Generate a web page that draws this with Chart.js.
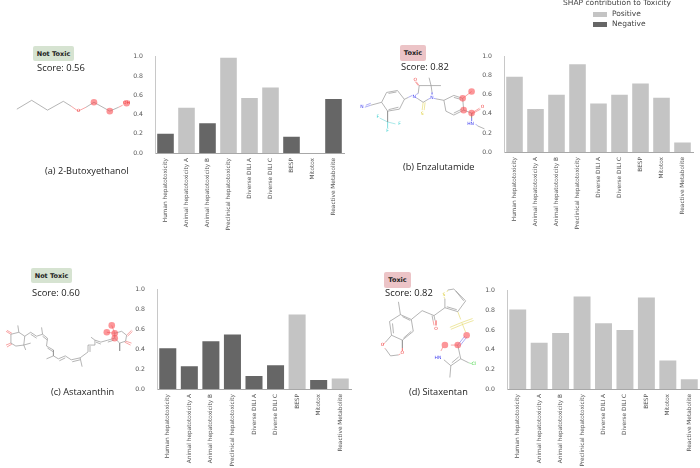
<!DOCTYPE html>
<html>
<head>
<meta charset="utf-8">
<title>SHAP contribution to Toxicity</title>
<script src="https://cdn.jsdelivr.net/npm/chart.js@4/dist/chart.umd.min.js"></script>
<style>
  html, body { margin: 0; padding: 0; background: #fff; overflow: hidden; }
  #page { position: relative; width: 700px; height: 468px; overflow: hidden; }
  canvas { position: absolute; }
  .pill { position: absolute; border-radius: 2px; font: bold 6.5px "DejaVu Sans", sans-serif; color: #222;
          display: flex; align-items: center; justify-content: center; }
  .nontoxic { background: #d6e3d1; }
  .toxic { background: #ecc4c7; }
  .score { position: absolute; font: 9.4px "Open Sans", sans-serif; color: #222; white-space: nowrap; }
  .caption { position: absolute; font: 9.2px "Open Sans", sans-serif; color: #222; white-space: nowrap; }
  .legend { position: absolute; font: 7.5px "DejaVu Sans", sans-serif; color: #444; white-space: nowrap; }
  .swatch { position: absolute; width: 14px; height: 5px; }
</style>
</head>
<body>
<div id="page">
  <canvas id="molecules" width="700" height="468" style="left:0;top:0"></canvas>

  <div class="pill nontoxic" style="left:33px;top:46px;width:41px;height:15px">Not Toxic</div>
  <div class="score" style="left:37px;top:61px">Score: 0.56</div>
  <div class="caption" style="left:45px;top:164px">(a) 2-Butoxyethanol</div>

  <div class="pill toxic" style="left:400px;top:45px;width:26px;height:16px">Toxic</div>
  <div class="score" style="left:401px;top:60px">Score: 0.82</div>
  <div class="caption" style="left:403px;top:160px">(b) Enzalutamide</div>

  <div class="pill nontoxic" style="left:31px;top:268px;width:41px;height:15px">Not Toxic</div>
  <div class="score" style="left:32px;top:286px">Score: 0.60</div>
  <div class="caption" style="left:51px;top:385px">(c) Astaxanthin</div>

  <div class="pill toxic" style="left:384px;top:272px;width:27px;height:16px">Toxic</div>
  <div class="score" style="left:385px;top:286px">Score: 0.82</div>
  <div class="caption" style="left:409px;top:385px">(d) Sitaxentan</div>

  <div class="legend" style="left:563px;top:-2px">SHAP contribution to Toxicity</div>
  <div class="swatch" style="left:593px;top:12px;background:#c4c4c4"></div>
  <div class="legend" style="left:612px;top:9px">Positive</div>
  <div class="swatch" style="left:593px;top:22px;background:#666"></div>
  <div class="legend" style="left:612px;top:19px">Negative</div>
</div>

<script>
const categories = ['Human hepatotoxicity', 'Animal hepatotoxicity A', 'Animal hepatotoxicity B',
  'Preclinical hepatotoxicity', 'Diverse DILI A', 'Diverse DILI C', 'BESP', 'Mitotox', 'Reactive Metabolite'];
const yTicks = [0, 0.2, 0.4, 0.6, 0.8, 1.0];

const valuesA = [0.20, 0.47, 0.31, 0.99, 0.57, 0.68, 0.17, 0, 0.56];
const valuesB = [0.79, 0.45, 0.60, 0.92, 0.51, 0.60, 0.72, 0.57, 0.10];
const valuesC = [0.41, 0.23, 0.48, 0.55, 0.13, 0.24, 0.75, 0.09, 0.105];
const valuesD = [0.81, 0.47, 0.57, 0.94, 0.67, 0.60, 0.93, 0.29, 0.10];

const signsA = ['neg', 'pos', 'neg', 'pos', 'pos', 'pos', 'neg', 'neg', 'neg'];
const signsB = ['pos', 'pos', 'pos', 'pos', 'pos', 'pos', 'pos', 'pos', 'pos'];
const signsC = ['neg', 'neg', 'neg', 'neg', 'neg', 'neg', 'pos', 'neg', 'pos'];
const signsD = ['pos', 'pos', 'pos', 'pos', 'pos', 'pos', 'pos', 'pos', 'pos'];

// molecule sketches: each inner list is one stroke x,y,x,y...
const greyBonds = [
  // a
  [13,107, 28,98, 44,108, 60,99, 68,104], [83,105, 91,100, 107,109, 116,105],
  // b
  [371,103, 382,100, 387,90, 398,88, 405,97, 400,107, 388,109, 382,100], [389,91, 397,89.5], [399,105, 389,107.5],
  [388,109, 388,120], [405,97, 409,95], [419,91, 420,83, 432,83, 433,90], [432,83, 430,75], [432,83, 442,83],
  [418,96, 424,100, 429,97], [437,96.5, 445,98, 455,93, 464,96, 465,108, 455,113, 447,109, 445,98],
  [455,95, 462,97], [455,111, 463,107], [465,108, 473,111, 473,116], [479,124, 486,127],
  // c
  [7,336, 15,334, 21,338, 20,347, 12,348, 7,345, 7,336], [15,334, 14,327], [20,347, 27,345], [20,347, 22,352],
  [21,338, 27,334, 33,338, 39,336, 44,340, 43,348, 50,352, 50,358, 55,361, 62,358, 68,362, 77,360, 85,354, 85,347, 92,347, 92,342, 98,344, 105,342, 112,340],
  [39,336, 38,329], [50,358, 43,361], [77,360, 79,369], [92,342, 88,339],
  [112,340, 112,335, 119,333, 124,337, 123,343, 117,345, 112,340], [117,345, 117,353],
  [27,336, 33,340], [39,338, 44,342], [44,350, 50,354], [56,363, 62,360], [69,364, 77,362], [87,354, 87,348], [93,344, 98,346], [105,344, 111,342],
  // d
  [449,291, 455,290, 467,302, 459,313, 446,309, 446,300], [457,292, 465,302], [458,311, 448,308],
  [446,309, 435,317, 423,312, 412,321, 401,316, 390,323, 392,337, 403,342, 414,333, 412,321],
  [435,317, 436,322], [433,317, 434,322], [401,316, 399,303], [403,318, 411,322], [393,325, 394,335], [404,340, 412,333],
  [392,337, 386,344], [403,342, 403,350], [386,351, 391,358, 399,357],
  [459,347, 462,361, 452,368, 445,362], [460,359, 453,365], [462,361, 470,365], [452,368, 451,380]
];
const redBonds = [
  [68,104, 75,109, 83,105], [116,105, 120,103], [420,83, 417,79], [419,83, 416,79],
  [464,96, 473,89], [473,111, 481,106], [473,112, 482,107], [437,322, 437,327], [434,322, 435,327],
  [2,333, 7,336], [3,332, 8,335], [2,347, 7,345], [3,349, 8,346],
  [112,335, 109,327], [112,335, 104,334], [124,337, 129,332], [125,338, 130,333], [123,343, 129,345], [122,344, 128,347],
  [386,344, 383,347], [403,350, 403,353], [386,351, 385,350], [399,357, 401,356],
  [459,347, 452,347], [442,353, 444,349]
];
const blueBonds = [[365,105, 371,103], [366,103, 371,101], [409,95, 413,93], [419,91, 417,92], [418,96, 416,95],
  [433,90, 433,92], [429,97, 431,96], [437,96.5, 435,96], [473,116, 473,119], [479,124, 477,122], [459,347, 466,338], [461,348, 468,339]];
const yellowBonds = [[424,100, 423,108], [426,100, 425,108], [446,300, 445,298], [449,291, 448,293],
  [459,313, 462,321], [463,324, 451,329], [464,326, 452,331], [463,324, 474,320], [464,326, 475,322], [463,324, 467,334]];
const cyanBonds = [[388,120, 380,116], [388,120, 396,122], [388,120, 388,126]];
const greenBonds = [[470,365, 473,366]];

const atomTexts = ['OH', 'O', 'N', 'F', 'F', 'F', 'N', 'N', 'O', 'S', 'O', 'HN', 'S', 'O', 'O', 'O', 'HN', 'Cl'];
const atomXs = [124, 75.5, 362, 378, 400, 388, 415, 433, 416, 423, 484, 472, 445, 437, 383, 403, 439, 475];
const atomYs = [101, 109, 105, 115, 122, 129, 94, 95, 77, 112, 105, 122, 296, 330, 347, 355, 360, 366];
const atomColors = { O: '#f03a3a', H: '#f03a3a', N: '#3a3af0', F: '#38cfcf', S: '#d8c820', C: '#30d030' };

const glowXs = [91, 107, 124, 464, 465, 473, 473, 109, 104, 112, 112, 468, 459, 446];
const glowYs = [100, 109, 101, 96, 108, 111, 89, 327, 334, 335, 340, 337, 347, 347];

function strokes(list) {
  const pts = [];
  list.forEach(s => {
    for (let i = 0; i < s.length; i += 2) pts.push({ x: s[i], y: s[i + 1] });
    pts.push({ x: NaN, y: NaN });
  });
  return pts;
}

function bondSet(list, color) {
  return { type: 'line', data: strokes(list), borderColor: color, borderWidth: 0.7, pointRadius: 0, spanGaps: false, tension: 0 };
}

const atomLabelPlugin = {
  id: 'atomLabels',
  afterDatasetsDraw(chart) {
    const { ctx, scales } = chart;
    ctx.save();
    ctx.font = '4.5px "DejaVu Sans", sans-serif';
    ctx.textAlign = 'center';
    ctx.textBaseline = 'middle';
    atomTexts.forEach((t, i) => {
      const key = t === 'Cl' ? 'C' : t === 'HN' ? 'N' : t[0];
      ctx.fillStyle = atomColors[key];
      ctx.fillText(t, scales.x.getPixelForValue(atomXs[i]), scales.y.getPixelForValue(atomYs[i]));
    });
    ctx.restore();
  }
};

new Chart(document.getElementById('molecules'), {
  type: 'scatter',
  data: {
    datasets: [
      { type: 'scatter', data: glowXs.map((x, i) => ({ x: x, y: glowYs[i] })), pointRadius: 3.3, borderWidth: 0, backgroundColor: 'rgba(250,80,85,0.6)' },
      bondSet(greyBonds, '#959595'), bondSet(redBonds, '#f58080'), bondSet(blueBonds, '#8a8af0'),
      bondSet(yellowBonds, '#e6dc78'), bondSet(cyanBonds, '#88e0e0'), bondSet(greenBonds, '#88e088')
    ]
  },
  options: {
    responsive: false,
    animation: false,
    layout: { padding: 0 },
    plugins: { legend: { display: false }, tooltip: { enabled: false } },
    scales: {
      x: { type: 'linear', display: false, min: 0, max: 700 },
      y: { type: 'linear', display: false, min: 0, max: 468, reverse: true }
    }
  },
  plugins: [atomLabelPlugin]
});

function barPanel(values, signs, left, right, top, bottom, canvasBottom) {
  const page = document.getElementById('page');
  const c = document.createElement('canvas');
  const axisW = 24, padTop = 6;
  c.width = right - left + axisW + 2;
  c.height = canvasBottom - top + padTop;
  c.style.left = (left - axisW) + 'px';
  c.style.top = (top - padTop) + 'px';
  page.appendChild(c);
  new Chart(c, {
    type: 'bar',
    data: {
      labels: categories,
      datasets: [{
        data: values,
        backgroundColor: signs.map(s => s === 'pos' ? '#c4c4c4' : '#666666'),
        categoryPercentage: 1,
        barPercentage: 0.79
      }]
    },
    options: {
      responsive: false,
      animation: false,
      layout: { padding: { top: padTop, right: 2, left: 0, bottom: 0 } },
      plugins: { legend: { display: false }, tooltip: { enabled: false } },
      scales: {
        x: {
          grid: { display: false },
          border: { color: '#a8a8a8', width: 1 },
          afterFit(s) { s.height = canvasBottom - bottom; },
          ticks: { autoSkip: false, minRotation: 90, maxRotation: 90, padding: -3,
            color: '#555', font: { family: 'DejaVu Sans', size: 5.8 } }
        },
        y: {
          min: 0, max: 1,
          grid: { display: false },
          border: { color: '#c8c8c8', width: 1 },
          afterFit(s) { s.width = axisW; },
          afterBuildTicks(s) { s.ticks = yTicks.map(v => ({ value: v })); },
          ticks: { padding: 4, color: '#555', font: { family: 'DejaVu Sans', size: 6.2 },
            callback: v => v.toFixed(1) }
        }
      }
    }
  });
}

barPanel(valuesA, signsA, 155, 344, 55, 153, 240);
barPanel(valuesB, signsB, 504, 693, 55, 152, 240);
barPanel(valuesC, signsC, 157, 351, 288, 389, 468);
barPanel(valuesD, signsD, 507, 700, 289, 389, 468);
</script>
</body>
</html>
